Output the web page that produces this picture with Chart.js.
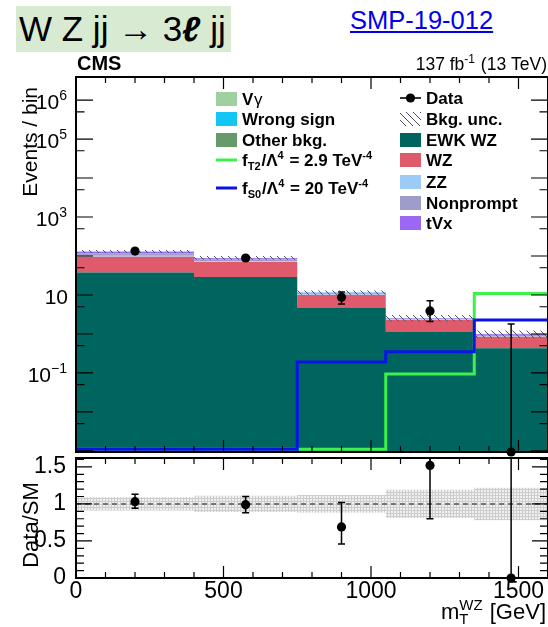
<!DOCTYPE html>
<html>
<head>
<meta charset="utf-8">
<script src="https://cdn.jsdelivr.net/npm/chart.js@4.4.1/dist/chart.umd.min.js"></script>
<style>
  html, body { margin: 0; padding: 0; background: #fff; }
  #wrap { position: relative; width: 548px; height: 627px; overflow: hidden; font-family: "Liberation Sans", Arial, sans-serif; }
  #wrap canvas { position: absolute; left: 0; top: 0; }
  .title { position: absolute; left: 16px; top: 6px; width: 215px; height: 46px; background: #d9ead3;
           font-size: 35px; line-height: 46px; box-sizing: border-box; padding-left: 3px; white-space: nowrap; }
  .title b { font-style: italic; }
  .ref { position: absolute; left: 350px; top: 6px; font-size: 25.5px; color: #0000ee; text-decoration: underline; }
</style>
</head>
<body>
<div id="wrap">
  <div class="title">W Z jj &rarr; 3<b>&#8467;</b> jj</div>
  <div class="ref">SMP-19-012</div>
  <canvas id="main" width="548" height="627"></canvas>
  <canvas id="ratio" width="548" height="627"></canvas>
</div>
<script>
// binning in m_T(WZ), GeV
const binEdges = [0, 400, 750, 1050, 1350, 1600];
const binCentres = [200, 575, 900, 1200, 1475];
const xTickValues = [0, 500, 1000, 1500];

// expected yields per bin
const ewkWZ = [38, 29, 4.8, 1.15, 0.43];
const qcdWZ = [58, 41, 5.2, 1.15, 0.42];
const zz = [6, 3, 0.3, 0.05, 0.03];
const nonprompt = [16, 9, 0.6, 0.1, 0.06];
const tVx = [10, 6, 0.5, 0.08, 0.05];
const otherBkg = [1.5, 1, 0.1, 0.02, 0.01];
const wrongSign = [0.5, 0.3, 0.05, 0.01, 0.005];
const vGamma = [0.4, 0.2, 0.04, 0.01, 0.005];
const bkgUnc = [0.09, 0.11, 0.12, 0.19, 0.22]; // relative

// aQGC signal hypotheses
const fT2 = [0, 0, 0, 0.094, 11.0];
const fS0 = [0, 0, 0.19, 0.35, 2.3];

// observed
const dataObs = [134, 89, 8.7, 3.9, 0];
const dataErrLo = [11.5, 9.4, 2.8, 1.8, 0];
const dataErrHi = [12.5, 10.4, 3.3, 3.2, 1.8];

// data / SM
const ratio = [1.03, 0.99, 0.69, 1.52, 0];
const ratioErrLo = [0.09, 0.11, 0.23, 0.72, 0];
const ratioErrHi = [0.10, 0.11, 0.33, 0.60, 1.8];
const ratioTickValues = [0, 0.5, 1, 1.5];

const Y_MIN = 9.4e-4, Y_MAX = 3.9e6;
const FLOOR = 1.1e-3; // empty bins sit on the bottom of the log axis
const FONT = '"Liberation Sans", Arial, sans-serif';

function steps(vals) {
  return binEdges.map((x, i) => ({ x: x, y: vals[Math.min(i, vals.length - 1)] }));
}

function hatch(size, bg, fg, draw) {
  const c = document.createElement('canvas');
  c.width = size; c.height = size;
  const g = c.getContext('2d');
  if (bg) { g.fillStyle = bg; g.fillRect(0, 0, size, size); }
  g.strokeStyle = fg; g.lineWidth = 1;
  draw(g, size);
  return document.getElementById('main').getContext('2d').createPattern(c, 'repeat');
}
const uncPattern = hatch(7, null, '#4a4d66', (g, s) => {
  g.beginPath(); g.moveTo(-1, -1); g.lineTo(s + 1, s + 1); g.stroke();
});
const ratioPattern = hatch(3, '#efefef', '#cdcdcd', (g, s) => {
  g.beginPath(); g.moveTo(0, 0.5); g.lineTo(s, 0.5); g.moveTo(0.5, 0); g.lineTo(0.5, s); g.stroke();
});

const stackParts = [
  { label: 'EWK WZ', vals: ewkWZ, color: '#00655f' },
  { label: 'WZ', vals: qcdWZ, color: '#df5a6a' },
  { label: 'ZZ', vals: zz, color: '#9dcbf7' },
  { label: 'Nonprompt', vals: nonprompt, color: '#9d9ccb' },
  { label: 'tVx', vals: tVx, color: '#9a68f2' },
  { label: 'Other bkg.', vals: otherBkg, color: '#659a6b' },
  { label: 'Wrong sign', vals: wrongSign, color: '#13c6f4' },
  { label: 'V\u03b3', vals: vGamma, color: '#a0d0a0' }
];
let running = binCentres.map(() => 0);
const stackSets = stackParts.map((p, k) => {
  running = running.map((r, i) => r + p.vals[i]);
  return {
    label: p.label, data: steps(running), stepped: true, order: 3,
    fill: k === 0 ? 'start' : '-1',
    backgroundColor: p.color, borderColor: 'transparent', borderWidth: 0
  };
});
const total = running;

const colT2 = '#3cf24a', colS0 = '#0a14e6';

// --- text helpers: runs of normal / superscript / subscript text
function rich(ctx, parts, size, bold, x, y, draw) {
  const w = bold ? 'bold ' : '';
  const small = Math.round(size * 0.66);
  let cx = x;
  parts.forEach(p => {
    if (p.sup !== undefined || p.sub !== undefined) {
      ctx.font = w + small + 'px ' + FONT;
      const a = p.sup ? ctx.measureText(p.sup).width : 0;
      const b = p.sub ? ctx.measureText(p.sub).width : 0;
      if (draw) {
        if (p.sup) ctx.fillText(p.sup, cx, y - size * 0.42);
        if (p.sub) ctx.fillText(p.sub, cx, y + size * 0.24);
      }
      cx += Math.max(a, b) + 1;
    } else {
      ctx.font = w + size + 'px ' + FONT;
      if (draw) ctx.fillText(p.t, cx, y);
      cx += ctx.measureText(p.t).width;
    }
  });
  return cx - x;
}

function frameAndTicks(ctx, chart, yMajors, yMinors, yLen) {
  const a = chart.chartArea, xs = chart.scales.x, ys = chart.scales.y;
  ctx.save();
  ctx.strokeStyle = '#000';
  ctx.lineWidth = 1.2;
  ctx.beginPath();
  for (let v = 0; v <= 1600; v += 100) {
    const px = xs.getPixelForValue(v);
    const l = v % 500 === 0 ? 12 : 6;
    ctx.moveTo(px, a.bottom); ctx.lineTo(px, a.bottom - l);
    ctx.moveTo(px, a.top); ctx.lineTo(px, a.top + l);
  }
  yMajors.forEach(v => {
    const py = ys.getPixelForValue(v);
    ctx.moveTo(a.left, py); ctx.lineTo(a.left + yLen, py);
    ctx.moveTo(a.right, py); ctx.lineTo(a.right - yLen, py);
  });
  yMinors.forEach(v => {
    const py = ys.getPixelForValue(v);
    ctx.moveTo(a.left, py); ctx.lineTo(a.left + yLen / 2, py);
    ctx.moveTo(a.right, py); ctx.lineTo(a.right - yLen / 2, py);
  });
  ctx.stroke();
  ctx.lineWidth = 2;
  ctx.strokeRect(a.left, a.top, a.right - a.left, a.bottom - a.top);
  ctx.restore();
}

function drawPoints(ctx, chart, vals, lo, hi) {
  const a = chart.chartArea, xs = chart.scales.x, ys = chart.scales.y;
  const yPix = v => Math.min(Math.max(ys.getPixelForValue(Math.max(v, ys.min)), a.top), a.bottom);
  ctx.save();
  ctx.fillStyle = '#000'; ctx.strokeStyle = '#000'; ctx.lineWidth = 1.5;
  vals.forEach((v, i) => {
    const px = xs.getPixelForValue(binCentres[i]);
    const py = yPix(v);
    const top = yPix(v + hi[i]), bot = yPix(v - lo[i]);
    ctx.beginPath();
    ctx.moveTo(px, top); ctx.lineTo(px, bot);
    if (top > a.top + 1) { ctx.moveTo(px - 3.5, top); ctx.lineTo(px + 3.5, top); }
    if (bot < a.bottom - 1 && lo[i] > 0) { ctx.moveTo(px - 3.5, bot); ctx.lineTo(px + 3.5, bot); }
    ctx.stroke();
    ctx.beginPath(); ctx.arc(px, py, 4.6, 0, 2 * Math.PI); ctx.fill();
  });
  ctx.restore();
}

const mainDecor = {
  id: 'mainDecor',
  afterDatasetsDraw(chart) {
    const ctx = chart.ctx, ys = chart.scales.y;
    const majors = [], minors = [];
    for (let n = -3; n <= 6; n++) {
      if (Math.pow(10, n) >= Y_MIN) majors.push(Math.pow(10, n));
      if (5 * Math.pow(10, n) <= Y_MAX) minors.push(5 * Math.pow(10, n));
    }
    frameAndTicks(ctx, chart, majors, minors, 17);
    drawPoints(ctx, chart, dataObs, dataErrLo, dataErrHi);

    ctx.save();
    ctx.fillStyle = '#000';
    ctx.textBaseline = 'alphabetic';
    // y labels, ROOT style powers of ten
    [[6, '6'], [5, '5'], [3, '3'], [1, ''], [-1, '\u22121']].forEach(([n, e]) => {
      const py = ys.getPixelForValue(Math.pow(10, n));
      const parts = e ? [{ t: '10' }, { sup: e }] : [{ t: '10' }];
      const w = rich(ctx, parts, 21, false, 0, 0, false);
      rich(ctx, parts, 21, false, 68 - w, py + 9, true);
    });
    // axis title
    ctx.save();
    ctx.translate(37, 87);
    ctx.rotate(-Math.PI / 2);
    ctx.textAlign = 'right';
    ctx.font = '21px ' + FONT;
    ctx.fillText('Events / bin', 0, 0);
    ctx.restore();
    // header
    ctx.font = 'bold 20px ' + FONT;
    ctx.fillText('CMS', 77, 70);
    const lumi = [{ t: '137 fb' }, { sup: '-1' }, { t: ' (13 TeV)' }];
    const lw = rich(ctx, lumi, 17.5, false, 0, 0, false);
    rich(ctx, lumi, 17.5, false, 547 - lw, 70, true);

    // legend
    const sw = (x, y, col) => { ctx.fillStyle = col; ctx.fillRect(x, y - 7, 21, 14); ctx.fillStyle = '#000'; };
    const ln = (x, y, col) => { ctx.fillStyle = col; ctx.fillRect(x, y - 1.5, 21, 3); ctx.fillStyle = '#000'; };
    const txt = (parts, x, y) => rich(ctx, parts, 17, true, x, y + 6, true);
    const byLabel = l => stackParts.find(p => p.label === l).color;
    const L = 216, R = 400;
    sw(L, 99, byLabel('V\u03b3'));
    rich(ctx, [{ t: 'V' }], 17, true, L + 26, 105, true);
    ctx.font = '17px ' + FONT;
    ctx.fillText('\u03b3', L + 26 + 12, 105);
    sw(L, 119, byLabel('Wrong sign')); txt([{ t: 'Wrong sign' }], L + 26, 119);
    sw(L, 140, byLabel('Other bkg.')); txt([{ t: 'Other bkg.' }], L + 26, 140);
    ln(L, 160, colT2);
    txt([{ t: 'f' }, { sub: 'T2' }, { t: '/\u039b' }, { sup: '4' }, { t: ' = 2.9 TeV' }, { sup: '-4' }], L + 26, 160);
    ln(L, 188, colS0);
    txt([{ t: 'f' }, { sub: 'S0' }, { t: '/\u039b' }, { sup: '4' }, { t: ' = 20 TeV' }, { sup: '-4' }], L + 26, 188);

    ctx.fillRect(R, 97.2, 21, 1.6);
    ctx.beginPath(); ctx.arc(R + 10.5, 98, 4.6, 0, 2 * Math.PI); ctx.fill();
    txt([{ t: 'Data' }], R + 26, 98);
    ctx.fillStyle = uncPattern; ctx.fillRect(R, 112, 21, 14); ctx.fillStyle = '#000';
    txt([{ t: 'Bkg. unc.' }], R + 26, 119);
    [['EWK WZ', 140], ['WZ', 160], ['ZZ', 182], ['Nonprompt', 203], ['tVx', 223]].forEach(([l, y]) => {
      sw(R, y, byLabel(l)); txt([{ t: l }], R + 26, y);
    });
    ctx.restore();
  }
};

new Chart(document.getElementById('main'), {
  type: 'line',
  data: {
    datasets: [
      ...stackSets,
      { label: 'unc-lo', data: steps(total.map((t, i) => t * (1 - bkgUnc[i]))), stepped: true, order: 2,
        fill: false, borderColor: 'transparent', borderWidth: 0 },
      { label: 'Bkg. unc.', data: steps(total.map((t, i) => t * (1 + bkgUnc[i]))), stepped: true, order: 2,
        fill: '-1', backgroundColor: uncPattern, borderColor: 'transparent', borderWidth: 0 },
      { label: 'fT2', data: steps(fT2.map(v => Math.max(v, FLOOR))), stepped: true, order: 1,
        fill: false, borderColor: colT2, borderWidth: 3 },
      { label: 'fS0', data: steps(fS0.map(v => Math.max(v, FLOOR))), stepped: true, order: 0,
        fill: false, borderColor: colS0, borderWidth: 3 }
    ]
  },
  options: {
    responsive: false,
    animation: false,
    layout: { padding: { top: 77, bottom: 175, left: 0, right: 0 } },
    elements: { point: { radius: 0 }, line: { tension: 0 } },
    plugins: { legend: { display: false }, tooltip: { enabled: false } },
    scales: {
      x: { type: 'linear', min: 0, max: 1600, display: false },
      y: {
        type: 'logarithmic', min: Y_MIN, max: Y_MAX,
        ticks: { display: false }, grid: { display: false, drawTicks: false }, border: { display: false },
        afterFit: s => { s.width = 76; }
      }
    }
  },
  plugins: [mainDecor]
});

const ratioDecor = {
  id: 'ratioDecor',
  afterDatasetsDraw(chart) {
    const ctx = chart.ctx;
    const minors = [];
    for (let k = 1; k <= 16; k++) if (k % 5 !== 0) minors.push(k / 10);
    frameAndTicks(ctx, chart, ratioTickValues, minors, 16);
    drawPoints(ctx, chart, ratio, ratioErrLo, ratioErrHi);
    ctx.save();
    ctx.fillStyle = '#000';
    ctx.save();
    ctx.translate(38, 525);
    ctx.rotate(-Math.PI / 2);
    ctx.textAlign = 'center';
    ctx.font = '22px ' + FONT;
    ctx.fillText('Data/SM', 0, 0);
    ctx.restore();
    const t = [{ t: 'm' }, { sup: 'WZ', sub: 'T' }, { t: ' [GeV]' }];
    const w = rich(ctx, t, 22, false, 0, 0, false);
    rich(ctx, t, 22, false, 546 - w, 619, true);
    ctx.restore();
  }
};

new Chart(document.getElementById('ratio'), {
  type: 'line',
  data: {
    datasets: [
      { label: 'band-lo', data: steps(bkgUnc.map(u => 1 - u)), stepped: true, order: 2,
        fill: false, borderColor: 'transparent', borderWidth: 0 },
      { label: 'band-hi', data: steps(bkgUnc.map(u => 1 + u)), stepped: true, order: 2,
        fill: '-1', backgroundColor: ratioPattern, borderColor: 'transparent', borderWidth: 0 },
      { label: 'unity', data: [{ x: 0, y: 1 }, { x: 1600, y: 1 }], fill: false, order: 1,
        borderColor: '#555', borderWidth: 1.5, borderDash: [5, 4] }
    ]
  },
  options: {
    responsive: false,
    animation: false,
    layout: { padding: { top: 458, bottom: 0, left: 0, right: 0 } },
    elements: { point: { radius: 0 }, line: { tension: 0 } },
    plugins: { legend: { display: false }, tooltip: { enabled: false } },
    scales: {
      x: {
        type: 'linear', min: 0, max: 1600,
        afterBuildTicks: s => { s.ticks = xTickValues.map(v => ({ value: v })); },
        ticks: { autoSkip: false, maxRotation: 0, padding: 0, callback: v => String(v),
                 color: '#000', font: { size: 23, family: FONT } },
        grid: { display: false, drawTicks: false }, border: { display: false },
        afterFit: s => { s.height = 49; }
      },
      y: {
        type: 'linear', min: 0, max: 1.62,
        afterBuildTicks: s => { s.ticks = ratioTickValues.map(v => ({ value: v })); },
        ticks: { padding: 10, callback: v => String(v),
                 color: '#000', font: { size: 23, family: FONT } },
        grid: { display: false, drawTicks: false }, border: { display: false },
        afterFit: s => { s.width = 76; }
      }
    }
  },
  plugins: [ratioDecor]
});
</script>
</body>
</html>
